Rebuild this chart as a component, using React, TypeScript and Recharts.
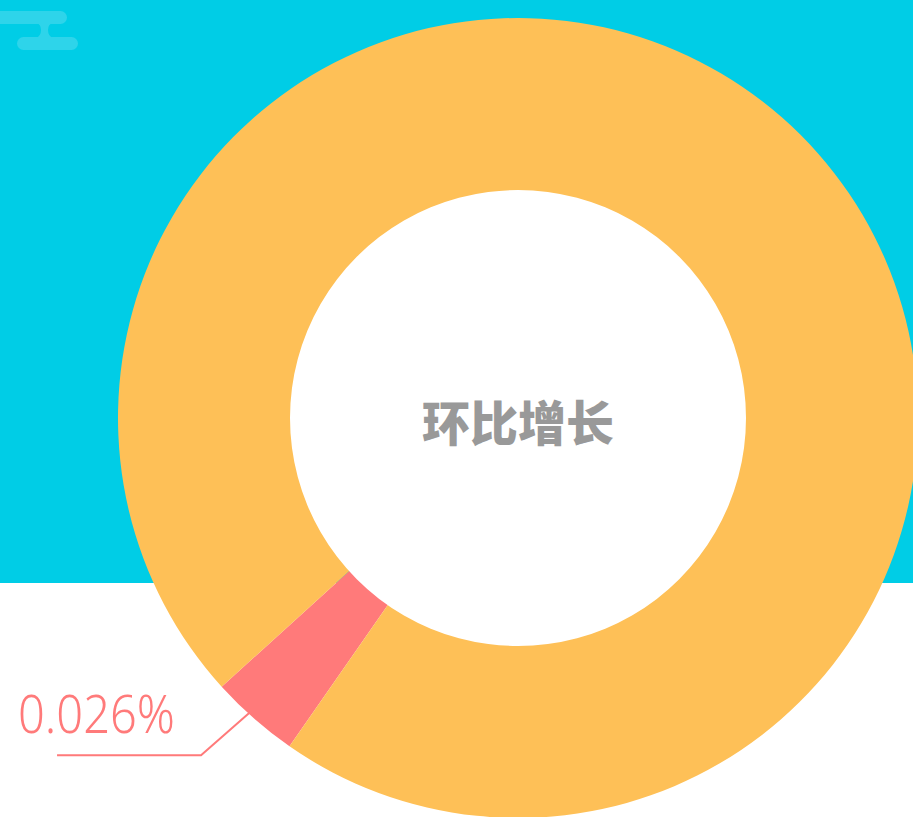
import { PieChart, Pie, Cell } from 'recharts';

// slice data (share of the ring)
const sliceNames = ['环比增长', '其他'];
const sliceValues = [3.6, 96.4];
const sliceColors = ['#FF7A7A', '#FEC057'];
const sliceLabels = ['0.026%', ''];
const centerTitle = '环比增长';
const holeValues = [1];

const data = sliceNames.map((name, i) => ({ name, value: sliceValues[i] }));
const hole = holeValues.map((value) => ({ name: 'hole', value }));

const RADIAN = Math.PI / 180;

function renderLabel(props: any) {
  const { cx, cy, midAngle, outerRadius, index } = props;
  if (!sliceLabels[index]) return null;
  const sx = cx + (outerRadius - 2) * Math.cos(-(midAngle - 1) * RADIAN);
  const sy = cy + (outerRadius - 2) * Math.sin(-(midAngle - 1) * RADIAN);
  const ex = sx - 49;
  const ey = sy + 43;
  const hx = ex - 144;
  return (
    <g>
      <polyline
        points={`${sx},${sy} ${ex},${ey} ${hx},${ey}`}
        fill="none"
        stroke={sliceColors[index]}
        strokeWidth={2}
      />
      <text
        x={ex - 26}
        y={ey - 22}
        textAnchor="end"
        fill={sliceColors[index]}
        fontSize={53}
        fontWeight={300}
        fontFamily="'Noto Sans', sans-serif"
        textLength={157}
        lengthAdjust="spacingAndGlyphs"
      >
        {sliceLabels[index]}
      </text>
    </g>
  );
}

// title in the middle of the ring, drawn as the hole's label
function renderTitle(props: any) {
  const { cx, cy } = props;
  return (
    <text
      x={cx}
      y={cy + 2}
      textAnchor="middle"
      dominantBaseline="central"
      fill="#999999"
      fontSize={48}
      fontWeight={900}
      fontFamily="'Noto Sans CJK SC', sans-serif"
    >
      {centerTitle}
    </text>
  );
}

function Decoration() {
  // small pill-shaped ornament in the top-left corner
  return (
    <svg width={90} height={60} style={{ position: 'absolute', left: 0, top: 0 }}>
      <g fill="#2ed4ea">
        <rect x={-10} y={11} width={77} height={13} rx={6.5} />
        <rect x={17} y={37} width={61} height={13} rx={6.5} />
        <path d="M36 23 Q41 24 41 30 Q41 36 36 38 L53 38 Q48 36 48 30 Q48 24 53 23 Z" />
      </g>
    </svg>
  );
}

export default function App() {
  return (
    <div
      style={{
        position: 'absolute',
        left: 0,
        top: 0,
        width: 913,
        height: 817,
        overflow: 'hidden',
        background: 'linear-gradient(to bottom, #00cde6 0px, #00cde6 583px, #ffffff 583px)',
      }}
    >
      <Decoration />
      <PieChart
        width={913}
        height={817}
        margin={{ top: 0, right: 0, bottom: 0, left: 0 }}
        style={{ position: 'absolute', left: 0, top: 0 }}
      >
        <Pie
          data={data}
          dataKey="value"
          nameKey="name"
          cx={518}
          cy={418}
          innerRadius={227}
          outerRadius={400}
          startAngle={222.2}
          endAngle={582.2}
          stroke="none"
          label={renderLabel}
          labelLine={false}
          isAnimationActive={false}
        >
          {data.map((d, i) => (
            <Cell key={d.name} fill={sliceColors[i]} />
          ))}
        </Pie>
        <Pie
          data={hole}
          dataKey="value"
          cx={518}
          cy={418}
          innerRadius={0}
          outerRadius={228}
          fill="#ffffff"
          stroke="none"
          label={renderTitle}
          labelLine={false}
          isAnimationActive={false}
        />
      </PieChart>
    </div>
  );
}
